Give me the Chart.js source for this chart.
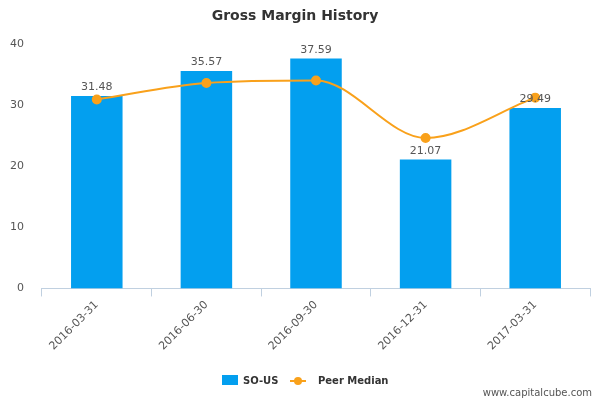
<!DOCTYPE html>
<html><head><meta charset="utf-8">
<script src="https://cdn.jsdelivr.net/npm/chart.js@4"></script>
<style>html,body{margin:0;padding:0;background:#fff}#w{position:relative;width:600px;height:400px}</style>
</head><body><div id="w"><canvas id="c" width="600" height="400"></canvas></div>
<script>
const categories=["2016-03-31","2016-06-30","2016-09-30","2016-12-31","2017-03-31"];
const companyValues=[31.48,35.57,37.59,21.07,29.49];
const peerMedian=[30.9,33.6,34.0,24.6,31.2];
const yTicks=[0,10,20,30,40];
const labelPlugin={id:'lbl',afterDatasetsDraw(ch){const ctx=ch.ctx;const m=ch.getDatasetMeta(1);ctx.save();ctx.font='11px "DejaVu Sans", sans-serif';ctx.fillStyle='#555';ctx.textAlign='center';ctx.textBaseline='bottom';m.data.forEach((b,i)=>{ctx.fillText(companyValues[i].toFixed(2),b.x,b.y-3);});
// legend
ctx.fillStyle='#039fef';ctx.fillRect(222,375,16,10);
ctx.font='bold 10px "DejaVu Sans", sans-serif';ctx.fillStyle='#333';ctx.textAlign='left';ctx.textBaseline='middle';
ctx.fillText('SO-US',243,381);
ctx.strokeStyle='#f9a11b';ctx.lineWidth=2;ctx.beginPath();ctx.moveTo(290,381);ctx.lineTo(306,381);ctx.stroke();
ctx.fillStyle='#f9a11b';ctx.beginPath();ctx.arc(298,381,4,0,Math.PI*2);ctx.fill();
ctx.fillStyle='#333';ctx.fillText('Peer Median',318,381);
ctx.font='10px "DejaVu Sans", sans-serif';ctx.fillStyle='#555';ctx.textAlign='right';ctx.textBaseline='bottom';ctx.fillText('www.capitalcube.com',592,398);ctx.restore();}};
new Chart(document.getElementById('c'),{
data:{labels:categories,datasets:[
{type:'line',label:'Peer Median',data:peerMedian,borderColor:'#f9a11b',backgroundColor:'#f9a11b',borderWidth:2,pointRadius:4,pointHoverRadius:4,cubicInterpolationMode:'monotone',order:0},
{type:'bar',label:'SO-US',data:companyValues,backgroundColor:'#039fef',barPercentage:0.94,categoryPercentage:0.5,order:1}]},
options:{responsive:false,animation:false,
layout:{padding:{left:0,right:10,top:0,bottom:45}},
plugins:{title:{display:true,text:'Gross Margin History',color:'#333',font:{family:'"DejaVu Sans", sans-serif',size:14,weight:'bold'},padding:{top:8,bottom:19}},
legend:{display:false},tooltip:{enabled:false}},
scales:{x:{offset:true,grid:{display:true,drawOnChartArea:false,offset:true,color:'#c0d0e0',tickLength:8},border:{color:'#c0d0e0'},ticks:{color:'#555',font:{family:'"DejaVu Sans", sans-serif',size:11},maxRotation:45,minRotation:45,padding:2}},
y:{min:0,max:40,afterBuildTicks(ax){ax.ticks=yTicks.map(v=>({value:v}));},grid:{display:false},border:{display:false},ticks:{color:'#555',font:{family:'"DejaVu Sans", sans-serif',size:11},padding:10}}}},
plugins:[labelPlugin]});
</script></body></html>
